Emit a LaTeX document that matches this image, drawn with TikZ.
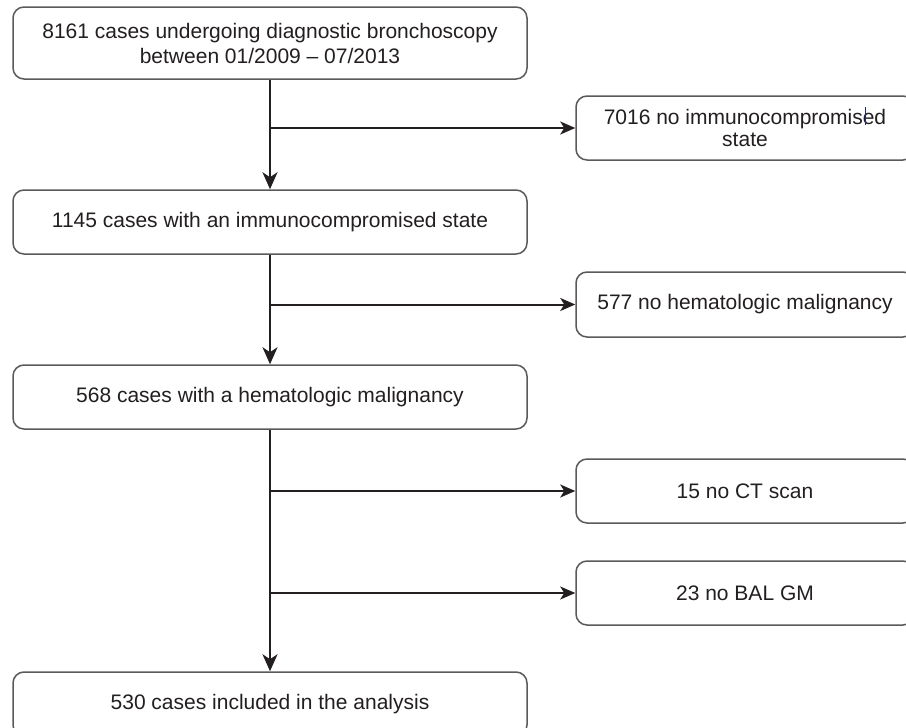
\documentclass[tikz,border=0pt]{standalone}
\usepackage{fontspec}
\setmainfont{Liberation Sans}
\usetikzlibrary{arrows.meta}
\definecolor{boxline}{HTML}{5A5A5A}
\definecolor{txt}{HTML}{231F20}
\begin{document}
\begin{tikzpicture}[x=1pt,y=-1pt,
  box/.style={draw=boxline, line width=1.5pt, rounded corners=11pt, text=txt,
    align=center, inner sep=0pt, font=\fontsize{21}{24}\selectfont},
  mainbox/.style={box, minimum width=514pt},
  sidebox/.style={box, minimum width=338pt},
  flow/.style={line width=2.4pt, draw=txt, -{Stealth[length=17pt,width=15pt,inset=5pt]}},
  branch/.style={line width=2pt, draw=txt, -{Stealth[length=15pt,width=13pt,inset=4pt]}}]
\useasboundingbox (0,0) rectangle (906,728);
\fill[white] (0,0) rectangle (906,728);
\node[mainbox, minimum height=72pt, font=\fontsize{21}{25}\selectfont] (b1) at (270,43)
  {8161 cases undergoing diagnostic bronchoscopy\\between 01/2009 -- 07/2013};
\node[mainbox, minimum height=64pt] (b2) at (270,222) {1145 cases with an immunocompromised state};
\node[mainbox, minimum height=64pt] (b3) at (270,397) {568 cases with a hematologic malignancy};
\node[mainbox, minimum height=64pt] (b4) at (270,704) {530 cases included in the analysis};
\node[sidebox, minimum height=64pt, font=\fontsize{21}{22.5}\selectfont] (r1) at (745,128) {7016 no immunocompromised\\state};
\node[sidebox, minimum height=65pt] (r2) at (745,304.5) {577 no hematologic malignancy};
\node[sidebox, minimum height=64pt] (r3) at (745,491) {15 no CT scan};
\node[sidebox, minimum height=64pt] (r4) at (745,593) {23 no BAL GM};
\coordinate (j1) at (270,128);
\coordinate (j2) at (270,304.5);
\coordinate (j3) at (270,491);
\coordinate (j4) at (270,593);
\draw[flow] (b1.south) -- (b2.north);
\draw[flow] (b2.south) -- (b3.north);
\draw[flow] (b3.south) -- (b4.north);
\draw[branch] (j1) -- (r1.west);
\draw[branch] (j2) -- (r2.west);
\draw[branch] (j3) -- (r3.west);
\draw[branch] (j4) -- (r4.west);
\draw[line width=1pt, draw={rgb,255:red,30;green,40;blue,120}] (865,107) -- (865,125);
\end{tikzpicture}
\end{document}
